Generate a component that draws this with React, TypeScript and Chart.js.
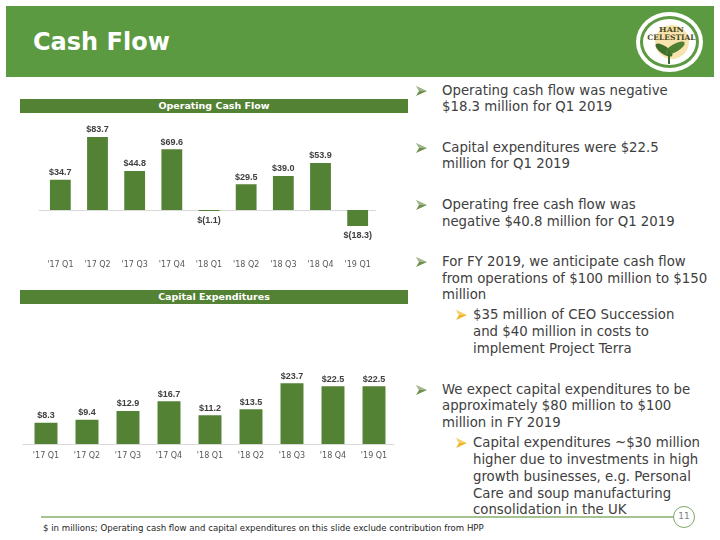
import React, { useEffect, useRef } from "react";
import { Chart, registerables } from "chart.js";

Chart.register(...registerables);

const quarters = ["'17 Q1", "'17 Q2", "'17 Q3", "'17 Q4", "'18 Q1", "'18 Q2", "'18 Q3", "'18 Q4", "'19 Q1"];
const operatingCashFlow = [34.7, 83.7, 44.8, 69.6, -1.1, 29.5, 39.0, 53.9, -18.3];
const capitalExpenditures = [8.3, 9.4, 12.9, 16.7, 11.2, 13.5, 23.7, 22.5, 22.5];

const BAR_GREEN = "#548235";
const HEADER_GREEN = "#5B9A41";
const TEXT = "#404040";
const FONT = '"DejaVu Sans", sans-serif';

function fmt(v: number) {
  return v < 0 ? `$(${Math.abs(v).toFixed(1)})` : `$${v.toFixed(1)}`;
}

const valueLabels = {
  id: "valueLabels",
  afterDatasetsDraw(chart: any) {
    const { ctx } = chart;
    const meta = chart.getDatasetMeta(0);
    const data = chart.data.datasets[0].data as number[];
    ctx.save();
    ctx.font = 'bold 9px "Liberation Sans", sans-serif';
    ctx.fillStyle = TEXT;
    ctx.textAlign = "center";
    ctx.textBaseline = "middle";
    meta.data.forEach((bar: any, i: number) => {
      const v = data[i];
      const y = v < 0 ? Math.max(bar.y, bar.base) + 10 : bar.y - 7;
      ctx.fillText(fmt(v), bar.x, y);
    });
    ctx.restore();
  },
};

const zeroLine = {
  id: "zeroLine",
  beforeDatasetsDraw(chart: any) {
    const { ctx, chartArea } = chart;
    const y = Math.round(chart.scales.y.getPixelForValue(0)) + 0.5;
    ctx.save();
    ctx.strokeStyle = "#d9d9d9";
    ctx.lineWidth = 1;
    ctx.beginPath();
    ctx.moveTo(chartArea.left - 3, y);
    ctx.lineTo(chartArea.right, y);
    ctx.stroke();
    ctx.restore();
  },
};

type BarProps = {
  labels: string[];
  values: number[];
  min: number;
  max: number;
  left: number;
  top: number;
  width: number;
  height: number;
  padTop: number;
  padLeft: number;
  padRight: number;
  axisHeight: number;
  tickPadding: number;
};

function BarChart(p: BarProps) {
  const ref = useRef<HTMLCanvasElement>(null);
  useEffect(() => {
    if (!ref.current) return;
    const chart = new Chart(ref.current, {
      type: "bar",
      data: {
        labels: p.labels,
        datasets: [
          {
            data: p.values,
            backgroundColor: BAR_GREEN,
            borderWidth: 0,
            barPercentage: 0.56,
            categoryPercentage: 1,
          },
        ],
      },
      options: {
        animation: false,
        responsive: false,
        devicePixelRatio: 1,
        layout: { padding: { top: p.padTop, left: p.padLeft, right: p.padRight, bottom: 0 } },
        plugins: { legend: { display: false }, tooltip: { enabled: false } },
        scales: {
          x: {
            grid: { display: false, drawTicks: false },
            border: { display: false },
            ticks: {
              font: { family: "DejaVu Sans", size: 8 },
              color: "#595959",
              padding: p.tickPadding,
              maxRotation: 0,
              autoSkip: false,
            },
            afterFit: (s: any) => {
              s.height = p.axisHeight;
            },
          },
          y: { display: false, min: p.min, max: p.max },
        },
      },
      plugins: [zeroLine, valueLabels],
    });
    return () => chart.destroy();
  }, []);
  return (
    <canvas
      ref={ref}
      width={p.width}
      height={p.height}
      style={{ position: "absolute", left: p.left, top: p.top, width: p.width, height: p.height }}
    />
  );
}

const abs = (l: number, t: number, extra: React.CSSProperties = {}): React.CSSProperties => ({
  position: "absolute",
  left: l,
  top: t,
  ...extra,
});

type Line = { y: number; text: string };
const mainBullets: Line[][] = [
  [
    { y: 91, text: "Operating cash flow was negative" },
    { y: 107, text: "$18.3 million for Q1 2019" },
  ],
  [
    { y: 148, text: "Capital expenditures were $22.5" },
    { y: 164, text: "million for Q1 2019" },
  ],
  [
    { y: 205, text: "Operating free cash flow was" },
    { y: 222, text: "negative $40.8 million for Q1 2019" },
  ],
  [
    { y: 262, text: "For FY 2019, we anticipate cash flow" },
    { y: 279, text: "from operations of $100 million to $150" },
    { y: 295, text: "million" },
  ],
  [
    { y: 390, text: "We expect capital expenditures to be" },
    { y: 406, text: "approximately $80 million to $100" },
    { y: 423, text: "million in FY 2019" },
  ],
];
const subBullets: Line[][] = [
  [
    { y: 315, text: "$35 million of CEO Succession" },
    { y: 332, text: "and $40 million in costs to" },
    { y: 349, text: "implement Project Terra" },
  ],
  [
    { y: 443, text: "Capital expenditures ~$30 million" },
    { y: 460, text: "higher due to investments in high" },
    { y: 477, text: "growth businesses, e.g. Personal" },
    { y: 494, text: "Care and soup manufacturing" },
    { y: 510, text: "consolidation in the UK" },
  ],
];

const textStyle: React.CSSProperties = {
  fontFamily: FONT,
  fontSize: 13.3,
  lineHeight: "16px",
  color: TEXT,
  whiteSpace: "nowrap",
};

function Arrow({ x, y, color }: { x: number; y: number; color: string }) {
  return (
    <svg style={abs(x, y - 5)} width={11} height={10} viewBox="0 0 11 10">
      <path d="M0 0 L11 5 L0 10 L3 5 Z" fill={color} />
      <path d="M0 0 L11 5 L3 5 Z" fill="#ffffff" opacity={0.35} />
    </svg>
  );
}

export default function App() {
  return (
    <div
      style={{
        position: "absolute",
        left: 0,
        top: 0,
        width: 720,
        height: 540,
        background: "#ffffff",
        overflow: "hidden",
        fontFamily: FONT,
      }}
    >
      {/* Header */}
      <div style={abs(6, 6, { width: 708, height: 71, background: HEADER_GREEN })} />
      <div
        style={abs(33, 27, {
          color: "#ffffff",
          fontWeight: "bold",
          fontSize: 24,
          lineHeight: "30px",
          fontFamily: FONT,
        })}
      >
        Cash Flow
      </div>
      {/* Logo */}
      <div style={abs(636, 12, { width: 67, height: 60, borderRadius: "50%", background: "#ffffff" })} />
      <div style={abs(640, 16, { width: 59, height: 52, borderRadius: "50%", background: HEADER_GREEN })} />
      <div style={abs(643, 19, { width: 53, height: 46, borderRadius: "50%", background: "#ffffff" })} />
      <div style={abs(655, 25, { width: 34, height: 34, borderRadius: "50%", background: "#F6E3AE" })} />
      <div style={abs(654, 46, { width: 20, height: 8, borderRadius: "50%", background: "#3F6E2A", transform: "rotate(35deg)" })} />
      <div style={abs(664, 44, { width: 22, height: 8, borderRadius: "50%", background: "#4F7F33", transform: "rotate(-30deg)" })} />
      <div style={abs(668, 50, { width: 2, height: 14, background: "#3F6E2A" })} />
      <div
        style={abs(640, 25, {
          width: 63,
          textAlign: "center",
          fontFamily: '"DejaVu Serif", serif',
          fontWeight: "bold",
          fontSize: 8,
          lineHeight: "8px",
          color: "#4A4A1E",
        })}
      >
        HAIN
        <br />
        <span style={{ fontSize: 7.5, letterSpacing: 0 }}>CELESTIAL</span>
      </div>

      {/* Chart titles */}
      <div
        style={abs(20, 99, {
          width: 388,
          height: 14,
          background: BAR_GREEN,
          color: "#fff",
          fontWeight: "bold",
          fontSize: 9.5,
          lineHeight: "14px",
          textAlign: "center",
        })}
      >
        Operating Cash Flow
      </div>

      <BarChart
        labels={quarters}
        values={operatingCashFlow}
        min={-25}
        max={100}
        left={20}
        top={115}
        width={378}
        height={160}
        padTop={7.8}
        padLeft={3}
        padRight={4}
        axisHeight={43.2}
        tickPadding={28}
      />

      <BarChart
        labels={quarters}
        values={capitalExpenditures}
        min={0}
        max={30}
        left={20}
        top={310}
        width={378}
        height={154}
        padTop={57}
        padLeft={5.5}
        padRight={3.5}
        axisHeight={20}
        tickPadding={7}
      />

      <div
        style={abs(20, 290, {
          width: 388,
          height: 14,
          background: BAR_GREEN,
          color: "#fff",
          fontWeight: "bold",
          fontSize: 9.5,
          lineHeight: "14px",
          textAlign: "center",
        })}
      >
        Capital Expenditures
      </div>

      {/* Right text */}
      {mainBullets.map((b, i) => (
        <React.Fragment key={"m" + i}>
          <Arrow x={416} y={b[0].y} color="#6E8F4E" />
          {b.map((l, j) => (
            <div key={j} style={abs(442, l.y - 8, textStyle)}>
              {l.text}
            </div>
          ))}
        </React.Fragment>
      ))}
      {subBullets.map((b, i) => (
        <React.Fragment key={"s" + i}>
          <Arrow x={456} y={b[0].y} color="#F0B323" />
          {b.map((l, j) => (
            <div key={j} style={abs(473, l.y - 8, textStyle)}>
              {l.text}
            </div>
          ))}
        </React.Fragment>
      ))}

      {/* Footer */}
      <div style={abs(41, 516, { width: 633, height: 2, background: "#A7C292" })} />
      <div
        style={abs(673, 506, {
          width: 22,
          height: 22,
          borderRadius: "50%",
          border: "1.5px solid #7FA866",
          background: "#fff",
          boxSizing: "border-box",
          textAlign: "center",
          fontSize: 9,
          lineHeight: "19px",
          color: "#7F7F7F",
        })}
      >
        11
      </div>
      <div style={abs(43, 523, { fontSize: 8.6, lineHeight: "10px", color: "#262626", whiteSpace: "nowrap" })}>
        $ in millions; Operating cash flow and capital expenditures on this slide exclude contribution from HPP
      </div>
    </div>
  );
}
